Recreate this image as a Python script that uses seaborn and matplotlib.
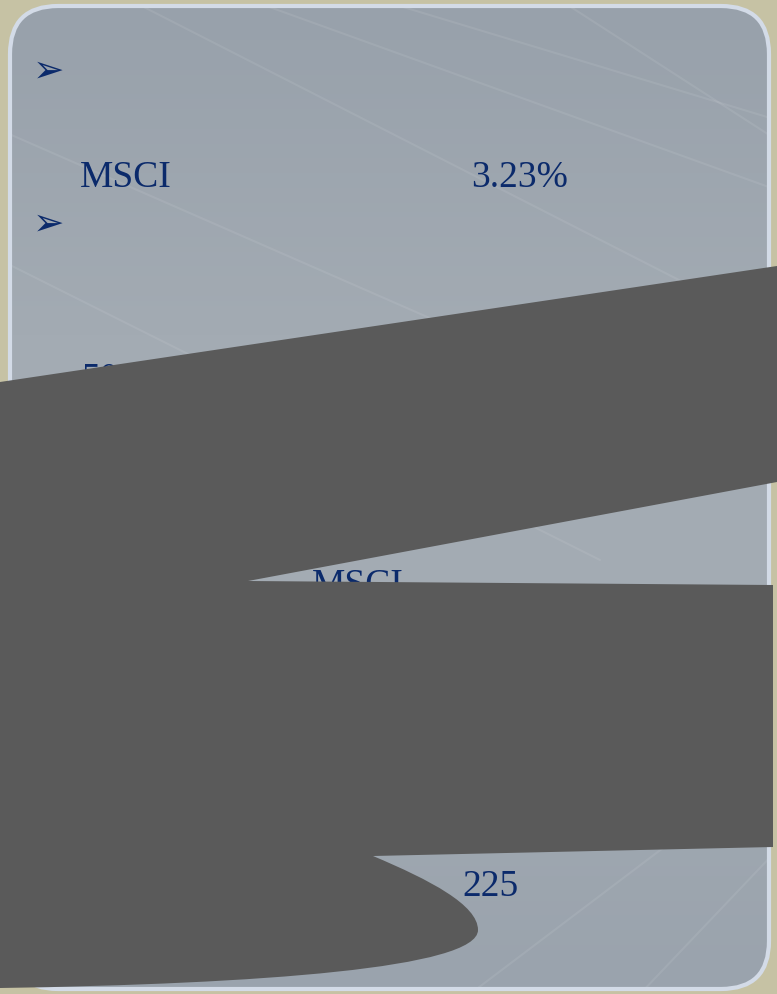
import numpy as np
import seaborn as sns
import matplotlib.pyplot as plt
from matplotlib.patches import FancyBboxPatch, PathPatch
from matplotlib.path import Path

# slide content (what is still readable on the slide)
bullets = ["➢", "➢"]
row_labels = ["MSCI", "3.23%"]
hidden_labels = ["50", "MSCI", "225"]

# style
sns.set_theme(style="white")
plt.rcParams['font.family'] = ['Liberation Serif', 'DejaVu Sans']

navy = "#0b2a6b"
panel_top = "#98a1ab"
panel_mid = "#a3abb3"
mask_grey = "#5a5a5a"

fig = plt.figure(figsize=(7.77, 9.94), dpi=100)
fig.patch.set_facecolor("#c6c2a4")
ax = fig.add_axes([0, 0, 1, 1])
ax.set_xlim(0, 777)
ax.set_ylim(994, 0)
ax.axis("off")

# rounded panel with soft vertical gradient
panel = FancyBboxPatch((10, 6), 759, 983, boxstyle="round,pad=0,rounding_size=48",
                       facecolor="none", edgecolor="#d3dbe7", lw=3, zorder=3)
ax.add_patch(panel)
grad = np.linspace(0, 1, 200)[:, None]
cmap = sns.blend_palette([panel_top, panel_mid, panel_mid, "#9aa3ad"], as_cmap=True)
img = ax.imshow(grad, extent=(10, 769, 989, 6), cmap=cmap, aspect="auto", zorder=1)
img.set_clip_path(panel)

# faint diagonal streaks in the slide background
for x0, y0, x1, y1 in [(130, 0, 777, 330), (250, 0, 777, 190), (380, 0, 777, 120),
                       (0, 130, 777, 470), (0, 260, 600, 560), (560, 0, 777, 140),
                       (470, 994, 700, 820), (640, 994, 777, 850)]:
    ln, = ax.plot([x0, x1], [y0, y1], color="white", alpha=0.08, lw=1.5, zorder=2)
    ln.set_clip_path(panel)

# bullets
for i, b in enumerate(bullets):
    ax.text(49, 72 + i * 153, b, color=navy, fontsize=27, ha="center", va="center",
            family=["DejaVu Sans"], zorder=4)

# first readable row
for lab, x in zip(row_labels, [80, 471]):
    ax.text(x, 187, lab, color=navy, fontsize=27, ha="left", va="baseline", zorder=4)

# labels that are partly hidden behind the masks
for lab, (x, y) in zip(hidden_labels, [(82, 389), (312, 595), (462, 896)]):
    ax.text(x, y, lab, color=navy, fontsize=27, ha="left", va="baseline", zorder=4)

# grey masking shapes
ax.fill([0, 777, 777, 248, 773, 773, 373, 0],
        [382, 266, 482, 581, 585, 847, 856, 856],
        color=mask_grey, lw=0, zorder=5)
blob = Path([(0, 850), (373, 856), (430, 880), (478, 905), (478, 930),
             (478, 968), (260, 984), (0, 988), (0, 850)],
            [Path.MOVETO, Path.LINETO, Path.CURVE4, Path.CURVE4, Path.CURVE4,
             Path.CURVE4, Path.CURVE4, Path.CURVE4, Path.CLOSEPOLY])
ax.add_patch(PathPatch(blob, facecolor=mask_grey, lw=0, zorder=5))

sns.despine(left=True, bottom=True)
fig.savefig("out.png", dpi=100, facecolor=fig.get_facecolor())
